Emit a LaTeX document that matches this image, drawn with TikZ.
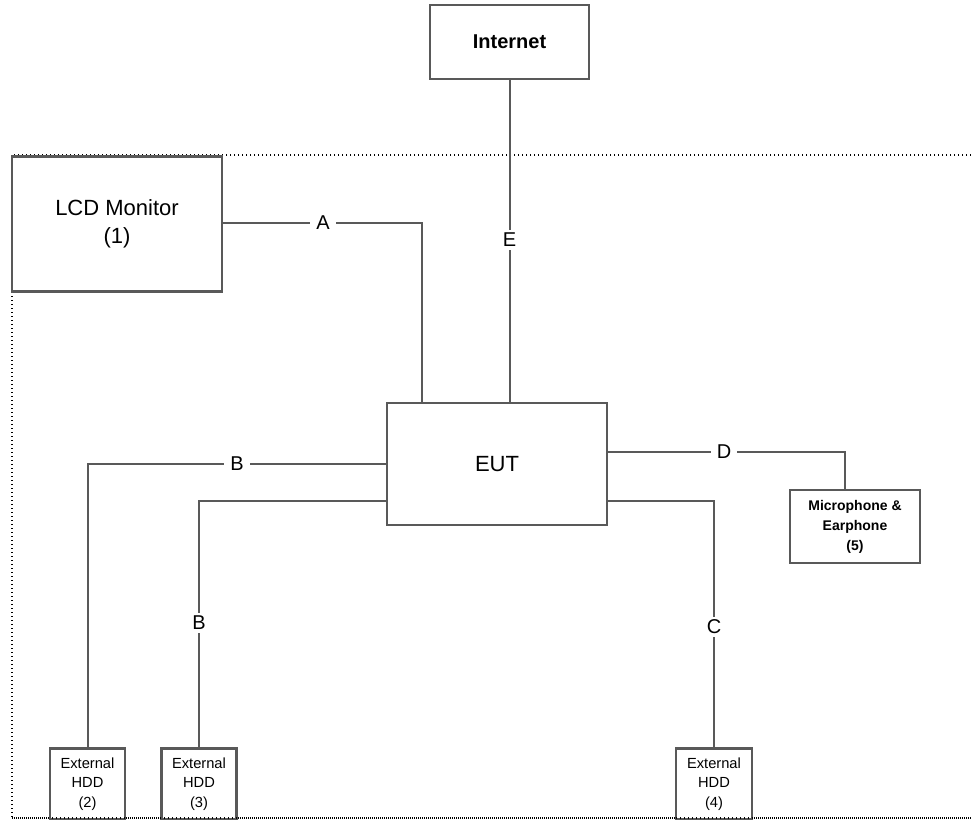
\documentclass[tikz,border=0pt]{standalone}
\usepackage{fontspec}
\setmainfont{Liberation Sans}
\begin{document}
\begin{tikzpicture}[x=0.75pt,y=-0.75pt,
  box/.style={draw=black!65, line width=1.6pt, fill=white, inner sep=0pt, align=center},
  wire/.style={draw=black!65, line width=1.5pt},
  lbl/.style={fill=white, inner xsep=4.5pt, inner ysep=2pt, font=\fontsize{15}{17}\selectfont},
  border/.style={draw=black, dotted, line width=1pt}]
\useasboundingbox (0,0) rectangle (971,820);
% dotted boundary
\draw[border] (971,155) -- (12,155) -- (12,818) -- (971,818);
% boxes
\node[box, minimum width=119.25pt, minimum height=55.5pt, font=\bfseries\fontsize{15}{18}\selectfont] (inet) at (509.5,42) {Internet};
\node[box, minimum width=157.5pt, minimum height=101.25pt, font=\fontsize{16.5}{21}\selectfont] (lcd) at (117,224) {LCD Monitor\\(1)};
\node[box, minimum width=165pt, minimum height=91.5pt, font=\fontsize{16.5}{20}\selectfont] (eut) at (497,464) {EUT};
\node[box, minimum width=97.5pt, minimum height=54.75pt, font=\bfseries\fontsize{10.5}{15}\selectfont] (mic) at (855,526.5) {Microphone \&\\Earphone\\(5)};
\node[box, minimum width=56.25pt, minimum height=53.25pt, font=\fontsize{11}{14.5}\selectfont] (hdd2) at (87.5,784) {External\\HDD\\(2)};
\node[box, minimum width=56.25pt, minimum height=53.25pt, font=\fontsize{11}{14.5}\selectfont] (hdd3) at (199,784) {External\\HDD\\(3)};
\node[box, minimum width=57pt, minimum height=53.25pt, font=\fontsize{11}{14.5}\selectfont] (hdd4) at (714,784) {External\\HDD\\(4)};
% helper coordinates
\coordinate (xa) at (422,0);
\coordinate (ya) at (0,223);
\coordinate (yb) at (0,501);
\coordinate (yd) at (0,452);
\coordinate (xd) at (845,0);
% connectors
\draw[wire] (lcd.east |- ya) -| (eut.north -| xa);
\draw[wire] (inet.south) -- (inet.south |- eut.north);
\draw[wire] (eut.west) -| (hdd2.north);
\draw[wire] (eut.west |- yb) -| (hdd3.north);
\draw[wire] (eut.east |- yb) -| (hdd4.north);
\draw[wire] (eut.east |- yd) -| (mic.north -| xd);
% redraw dotted bottom over boxes
\draw[border] (12,818) -- (971,818);
% labels
\node[lbl] (la) at (323,223) {A};
\node[lbl] (le) at (509.5,240) {E};
\node[lbl] (lb1) at (237,464) {B};
\node[lbl] (lb2) at (199,623) {B};
\node[lbl] (lc) at (714,627) {C};
\node[lbl] (ld) at (724,452) {D};
\end{tikzpicture}
\end{document}
